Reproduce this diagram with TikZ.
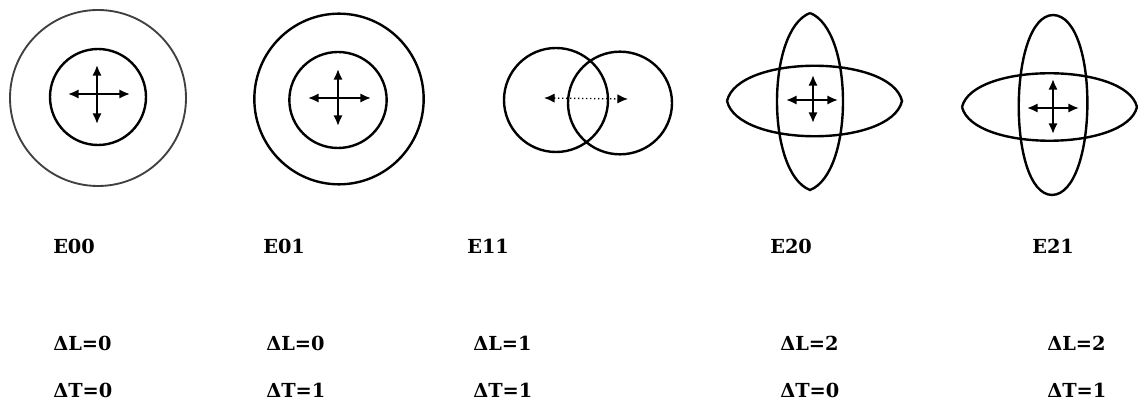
\documentclass[tikz,border=0pt]{standalone}
\usepackage{fontspec}
\setmainfont{DejaVu Serif}
\usetikzlibrary{arrows.meta}
\begin{document}
\begin{tikzpicture}[x=0.75pt,y=-0.75pt,
  ring/.style={line width=1.8pt},
  faint/.style={line width=1.4pt, black!75},
  cross/.style={line width=1.5pt, {Latex[length=8pt,width=7pt]}-{Latex[length=8pt,width=7pt]}},
  dotcross/.style={line width=1pt, dotted, {Latex[length=8pt,width=7pt]}-{Latex[length=8pt,width=7pt]}},
  lbl/.style={anchor=west, inner sep=0pt, font=\fontsize{14.5}{18}\selectfont\bfseries}]
\useasboundingbox (0,0) rectangle (1138,402);

% E00
\draw[faint] (98,98) ellipse [x radius=66pt, y radius=66pt];
\draw[ring] (98,97) ellipse [x radius=36pt, y radius=36pt];
\coordinate (a1) at (68,94); \coordinate (a2) at (130,94);
\coordinate (a3) at (97,65); \coordinate (a4) at (97,124);
\draw[cross] (a1) -- (a2);
\draw[cross] (a3) -- (a4);

% E01
\draw[ring] (339,99) ellipse [x radius=63.5pt, y radius=64pt];
\draw[ring] (338,100) ellipse [x radius=36.5pt, y radius=36pt];
\coordinate (b1) at (308,98); \coordinate (b2) at (371,98);
\coordinate (b3) at (338,69); \coordinate (b4) at (338,126);
\draw[cross] (b1) -- (b2);
\draw[cross] (b3) -- (b4);

% E11
\draw[ring] (556,100) ellipse [x radius=39pt, y radius=39pt];
\draw[ring] (620,103) ellipse [x radius=39pt, y radius=38.5pt];
\coordinate (c1) at (544,98); \coordinate (c2) at (628,99);
\draw[dotcross] (c1) -- (c2);

% E20
\draw[ring] (727,101) .. controls (738,54) and (891,54) .. (902,101)
                      .. controls (891,148) and (738,148) .. (727,101);
\draw[ring] (810,13) .. controls (854,30) and (854,173) .. (810,190)
                     .. controls (766,173) and (766,30) .. (810,13);
\coordinate (d1) at (786,100); \coordinate (d2) at (838,100);
\coordinate (d3) at (813,75); \coordinate (d4) at (813,123);
\draw[cross] (d1) -- (d2);
\draw[cross] (d3) -- (d4);

% E21
\draw[ring] (962,107) .. controls (973,62) and (1126,62) .. (1137,107)
                      .. controls (1126,152) and (973,152) .. (962,107);
\draw[ring] (1053,15) .. controls (1100,16) and (1098,194) .. (1052,195)
                      .. controls (1007,194) and (1008,16) .. (1053,15);
\coordinate (e1) at (1027,108); \coordinate (e2) at (1079,108);
\coordinate (e3) at (1053,79); \coordinate (e4) at (1053,134);
\draw[cross] (e1) -- (e2);
\draw[cross] (e3) -- (e4);

% labels
\node[lbl] (n1) at (53,246) {E00};
\node[lbl] (n2) at (263,246) {E01};
\node[lbl] (n3) at (467,246) {E11};
\node[lbl] (n4) at (770,246) {E20};
\node[lbl] (n5) at (1032,246) {E21};

\node[lbl] (l1) at (53,343) {ΔL=0};
\node[lbl] (l2) at (266,343) {ΔL=0};
\node[lbl] (l3) at (473,343) {ΔL=1};
\node[lbl] (l4) at (780,343) {ΔL=2};
\node[lbl] (l5) at (1047,343) {ΔL=2};

\node[lbl] (t1) at (53,390) {ΔT=0};
\node[lbl] (t2) at (266,390) {ΔT=1};
\node[lbl] (t3) at (473,390) {ΔT=1};
\node[lbl] (t4) at (780,390) {ΔT=0};
\node[lbl] (t5) at (1047,390) {ΔT=1};
\end{tikzpicture}
\end{document}
